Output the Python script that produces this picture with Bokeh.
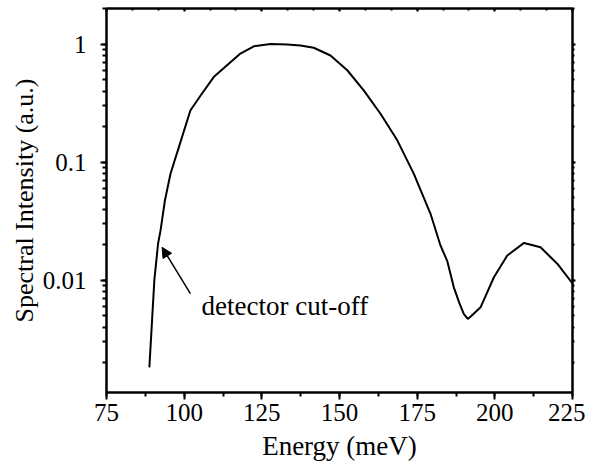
from bokeh.plotting import figure
from bokeh.models import (LogAxis, LinearAxis, Arrow, NormalHead, Label, LogTicker,
                          SingleIntervalTicker, CustomJSTickFormatter, Range1d)
from bokeh.embed import file_html
from bokeh.resources import INLINE

# Data
energy = [88.8, 90.4, 91.6, 92.4, 93.8, 95.6, 98.3, 102.0, 105.3, 109.5, 113.8, 118.1,
          122.4, 127.8, 133.2, 137.4, 141.7, 147.1, 152.5, 157.8, 163.2, 168.6, 173.9,
          179.3, 182.5, 184.7, 186.8, 188.5, 190.0, 191.3, 192.5, 195.4, 199.7, 204.0,
          209.4, 214.7, 220.1, 225.0]
intensity = [0.00183, 0.0100, 0.0204, 0.0264, 0.0473, 0.0797, 0.134, 0.274, 0.367, 0.525,
             0.66, 0.83, 0.956, 1.0, 0.99, 0.97, 0.93, 0.80, 0.60, 0.405, 0.257, 0.153,
             0.080, 0.0365, 0.0197, 0.0145, 0.0087, 0.0065, 0.0052, 0.0047, 0.0050, 0.0059,
             0.0106, 0.0162, 0.0207, 0.0190, 0.0138, 0.0094]

x_limits = (75, 225)
y_limits = (1.12e-3, 2.0)

annotation_text = "detector cut-off"
arrow_from = (102.0, 0.0077)
arrow_to = (92.9, 0.019)
label_at = (105.6, 0.0060)

FONT = "Liberation Serif"

p = figure(width=585, height=464, y_axis_type="log",
           x_range=Range1d(*x_limits), y_range=Range1d(*y_limits),
           output_backend="svg", toolbar_location=None,
           min_border_left=106, min_border_right=13, min_border_top=8, min_border_bottom=72)

p.grid.visible = False
p.background_fill_color = "white"
p.border_fill_color = "white"
p.outline_line_color = "black"
p.outline_line_width = 2

p.line(energy, intensity, line_color="black", line_width=2)

# bottom axis
xa = p.xaxis[0]
xa.ticker = SingleIntervalTicker(interval=25, num_minor_ticks=2)
xa.axis_label = "Energy (meV)"
# left axis
ya = p.yaxis[0]
ya.ticker = LogTicker(num_minor_ticks=10)
ya.formatter = CustomJSTickFormatter(code="return parseFloat(tick.toPrecision(6)).toString();")
ya.axis_label = "Spectral Intensity (a.u.)"

for ax in (xa, ya):
    ax.axis_line_width = 2
    ax.major_tick_line_width = 2
    ax.minor_tick_line_width = 2
    ax.major_tick_in = 0
    ax.minor_tick_in = 0
    ax.major_label_text_font = FONT
    ax.major_label_text_font_size = "25px"
    ax.major_label_text_color = "black"
    ax.axis_label_text_font = FONT
    ax.axis_label_text_font_style = "normal"
    ax.axis_label_text_color = "black"

xa.axis_label_text_font_size = "27px"
ya.axis_label_text_font_size = "26px"
xa.major_tick_out = 7
xa.minor_tick_out = 4
xa.major_label_standoff = 4
xa.axis_label_standoff = 7
ya.major_tick_out = 6
ya.minor_tick_out = 4
ya.major_label_standoff = 14
ya.axis_label_standoff = 1

blank = CustomJSTickFormatter(code="return '';")

# top axis (ticks only)
top = LinearAxis(ticker=SingleIntervalTicker(interval=25, num_minor_ticks=3), formatter=blank)
top.major_label_standoff = 0
top.major_tick_out = 0
top.major_tick_in = 3
top.minor_tick_out = 0
top.minor_tick_in = 2
top.axis_line_width = 2
top.major_tick_line_width = 2
top.minor_tick_line_width = 2
p.add_layout(top, "above")

# right axis (ticks only)
right = LogAxis(ticker=LogTicker(num_minor_ticks=10), formatter=blank)
right.major_label_standoff = 0
right.major_tick_out = 3
right.major_tick_in = 0
right.minor_tick_out = 2
right.minor_tick_in = 0
right.axis_line_width = 2
right.major_tick_line_width = 2
right.minor_tick_line_width = 2
p.add_layout(right, "right")

p.add_layout(Arrow(end=NormalHead(size=10, line_color="black", fill_color="black", line_width=1),
                   x_start=arrow_from[0], y_start=arrow_from[1],
                   x_end=arrow_to[0], y_end=arrow_to[1],
                   line_color="black", line_width=1.5))
p.add_layout(Label(x=label_at[0], y=label_at[1], text=annotation_text,
                   text_font=FONT, text_font_size="27px", text_color="black",
                   text_baseline="alphabetic"))

open("out.html", "w").write(file_html(p, INLINE))
